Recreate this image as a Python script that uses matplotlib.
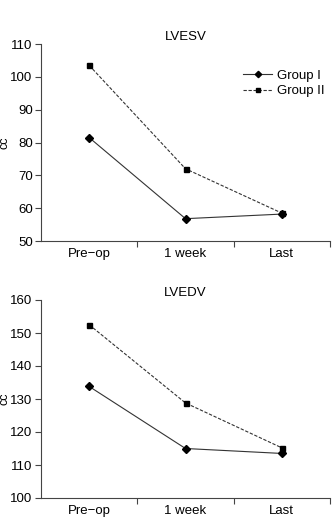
import matplotlib
matplotlib.use("Agg")
import matplotlib.pyplot as plt

plt.rcParams['font.family'] = ['Liberation Sans', 'DejaVu Sans']

categories = ["Pre\u2212op", "1 week", "Last"]
lvesv_g1 = [81.5, 56.8, 58.2]
lvesv_g2 = [103.5, 72.0, 58.5]
lvedv_g1 = [133.8, 115.0, 113.5]
lvedv_g2 = [152.5, 128.8, 115.2]

fig = plt.figure(figsize=(3.36, 5.17), dpi=100)
W, H = 336, 517
FS = 9.5

def make_ax(top_px, bot_px, g1, g2, ylim, yticks, title, legend):
    ax = fig.add_axes([41 / W, 1 - bot_px / H, (330 - 41) / W, (bot_px - top_px) / H])
    xs = [i + 0.5 for i in range(len(categories))]
    lc = '#333333'
    ax.plot(xs, g1, '-', color=lc, lw=0.8, marker='D', ms=3.6, mfc='black', mec='black', label='Group I')
    ax.plot(xs, g2, '--', color=lc, lw=0.8, dashes=(3, 1.5), marker='s', ms=3.6, mfc='black', mec='black', label='Group II')
    ax.set_xlim(0, len(categories))
    ax.set_ylim(*ylim)
    ax.set_yticks(yticks)
    ax.set_xticks([1, 2, 3])
    ax.set_xticklabels([])
    ax.set_xticks(xs, minor=True)
    ax.set_xticklabels(categories, minor=True)
    ax.tick_params(axis='x', which='minor', length=0, pad=5, labelsize=FS)
    ax.tick_params(axis='x', which='major', length=4, width=0.8, color='#444444')
    ax.tick_params(axis='y', length=4, width=0.8, color='#444444', labelsize=FS, pad=2)
    for s in ['top', 'right']:
        ax.spines[s].set_visible(False)
    for s in ['left', 'bottom']:
        ax.spines[s].set_color('#444444')
        ax.spines[s].set_linewidth(0.8)
    fig.text(4.5 / W, 1 - (top_px + bot_px) / 2 / H, 'cc', rotation=90, ha='center', va='center', fontsize=FS - 0.5)
    ax.set_title(title, fontsize=FS, pad=3)
    if legend:
        ax.legend(loc='upper right', bbox_to_anchor=(1.01, 0.91), frameon=False, fontsize=FS,
                  handlelength=2.2, handletextpad=0.4, labelspacing=0.25, borderaxespad=0.2,
                  markerscale=0.9)
    return ax

make_ax(44, 241, lvesv_g1, lvesv_g2, (50, 110), range(50, 111, 10), 'LVESV', True)
make_ax(300, 498, lvedv_g1, lvedv_g2, (100, 160), range(100, 161, 10), 'LVEDV', False)

fig.savefig('out.png', dpi=100)
